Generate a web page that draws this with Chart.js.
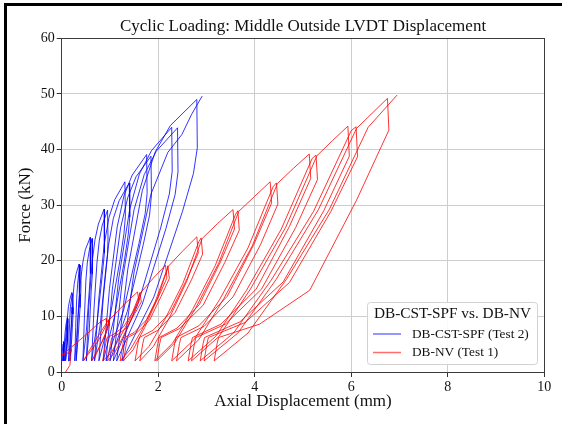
<!DOCTYPE html>
<html>
<head>
<meta charset="utf-8">
<script src="https://cdn.jsdelivr.net/npm/chart.js@4"></script>
<style>
html,body{margin:0;padding:0;background:#fff;}
#wrap{width:562px;height:424px;position:relative;}
canvas{display:block;}
</style>
</head>
<body>
<div id="wrap"><canvas id="c" width="562" height="424"></canvas></div>
<script>
// ---------- data ----------
const chartTitle = 'Cyclic Loading: Middle Outside LVDT Displacement';
const xAxisTitle = 'Axial Displacement (mm)';
const yAxisTitle = 'Force (kN)';
const legendTitle = 'DB-CST-SPF vs. DB-NV';
const seriesNames = ['DB-CST-SPF (Test 2)', 'DB-NV (Test 1)'];
const xTicks = [0, 2, 4, 6, 8, 10];
const yTicks = [0, 10, 20, 30, 40, 50, 60];

// DB-CST-SPF (Test 2): displacement (mm)
const blueX = [
  0.00,
  0.01,0.03,0.04, 0.04,0.03,0.02,
  0.03,0.045,0.05, 0.05,0.045,0.04,
  0.05,0.07,0.09,0.12, 0.125,0.11,0.08,0.06,
  0.07,0.09,0.11,0.13, 0.135,0.12,0.10,0.08,
  0.10,0.12,0.14,0.17,0.21, 0.22,0.215,0.20,0.17,0.14,
  0.15,0.17,0.18,0.20,0.23, 0.24,0.235,0.225,0.20,0.17,
  0.20,0.23,0.26,0.30,0.36, 0.37,0.365,0.35,0.31,0.27,
  0.29,0.31,0.33,0.35,0.39, 0.40,0.395,0.38,0.34,0.30,
  0.34,0.39,0.44,0.49,0.59, 0.60,0.59,0.57,0.51,0.44,
  0.47,0.50,0.53,0.57,0.63, 0.64,0.63,0.61,0.57,0.51,
  0.56,0.63,0.69,0.76,0.88, 0.89,0.88,0.84,0.73,0.62,
  0.67,0.73,0.78,0.84,0.95, 0.96,0.95,0.90,0.80,0.68,
  0.77,0.88,0.98,1.10,1.31, 1.32,1.29,1.21,1.00,0.77,
  0.86,0.97,1.07,1.19,1.40, 1.41,1.38,1.30,1.09,0.86,
  0.99,1.15,1.29,1.46,1.76, 1.77,1.73,1.60,1.28,0.92,
  1.05,1.22,1.37,1.54,1.85, 1.86,1.82,1.69,1.36,1.00,
  1.18,1.41,1.61,1.86,2.28, 2.29,2.23,2.05,1.58,1.07,
  1.26,1.50,1.71,1.96,2.40, 2.41,2.35,2.16,1.67,1.14,
  1.37,1.67,1.94,2.25,2.80, 2.81,2.73,2.50,1.91,1.25,
  1.50,1.85,2.20,2.49,2.69,2.91
];
// DB-CST-SPF (Test 2): force (kN)
const blueF = [
  2.0,
  3.5,5.0,5.5, 4.6,3.2,2.0,
  3.6,5.0,5.3, 4.4,3.0,2.0,
  4.7,7.1,8.6,9.8, 8.0,5.5,3.2,2.0,
  4.7,7.0,8.8,9.6, 7.9,5.4,3.2,2.0,
  6.3,10.0,11.8,13.1,14.3, 11.7,10.5,8.8,4.9,2.0,
  6.2,9.9,11.7,12.9,14.1, 11.6,10.4,8.7,4.9,2.0,
  8.1,13.3,15.9,17.7,19.4, 15.9,14.2,11.7,6.2,2.0,
  8.0,13.2,15.8,17.5,19.2, 15.7,14.1,11.6,6.1,2.0,
  9.8,16.4,19.8,22.0,24.2, 19.8,17.7,14.5,7.3,2.0,
  9.7,16.3,19.6,21.8,24.0, 19.7,17.6,14.4,7.3,2.0,
  11.6,19.7,23.8,26.6,29.3, 24.0,21.4,17.4,8.6,2.0,
  11.5,19.6,23.7,26.4,29.1, 23.9,21.3,17.3,8.6,2.0,
  13.3,22.9,27.8,31.0,34.2, 28.0,24.9,20.2,9.8,2.0,
  13.2,22.8,27.6,30.8,34.0, 27.9,24.8,20.1,9.8,2.0,
  15.0,26.1,31.7,35.4,39.1, 32.1,28.5,23.1,11.0,2.0,
  14.9,25.9,31.4,35.1,38.8, 31.8,28.2,22.9,10.9,2.0,
  16.7,29.3,35.6,39.8,44.0, 36.1,32.0,25.9,12.2,2.0,
  16.7,29.2,35.5,39.7,43.9, 36.0,31.9,25.8,12.2,2.0,
  18.5,32.6,39.6,44.3,49.0, 40.3,35.7,28.8,13.5,2.0,
  18.0,32.0,39.5,42.7,46.3,49.6
];

// DB-NV (Test 1): displacement (mm)
const redX = [
  0.08,0.17,0.20,0.19,0.00,
  0.45,0.80,0.92, 0.93,0.75,0.55,0.45,
  0.58,0.78,0.92,0.97, 0.98,0.85,0.70,0.62,
  0.70,0.79,0.90,0.99,1.30,1.57, 1.60,1.47,1.28,1.08,0.94,0.91,0.85,
  1.02,1.20,1.41,1.60,1.62, 1.65,1.52,1.35,1.17,1.04,1.01,0.95,
  1.10,1.27,1.46,1.63,1.90,2.15, 2.18,2.01,1.76,1.50,1.30,1.27,1.21,
  1.42,1.67,1.94,2.18,2.20, 2.23,2.06,1.82,1.56,1.37,1.34,1.28,
  1.48,1.72,1.98,2.21,2.50,2.80, 2.83,2.60,2.26,1.89,1.61,1.58,1.52,
  1.81,2.14,2.51,2.84,2.89, 2.92,2.69,2.35,1.99,1.71,1.68,1.62,
  1.90,2.23,2.59,2.91,3.23,3.55, 3.58,3.29,2.85,2.39,2.02,1.99,1.93,
  2.30,2.71,3.18,3.60,3.65, 3.68,3.38,2.93,2.44,2.06,2.03,1.97,
  2.34,2.77,3.25,3.67,4.00,4.32, 4.35,3.99,3.43,2.84,2.37,2.34,2.28,
  2.74,3.27,3.86,4.38,4.45, 4.48,4.12,3.55,2.95,2.47,2.44,2.38,
  2.84,3.36,3.95,4.47,4.80,5.13, 5.16,4.72,4.03,3.30,2.71,2.68,2.62,
  3.19,3.83,4.55,5.19,5.27, 5.30,4.85,4.14,3.39,2.78,2.75,2.69,
  3.26,3.91,4.64,5.29,5.61,5.93, 5.96,5.43,4.59,3.69,2.96,2.93,2.87,
  3.56,4.34,5.22,6.00,6.10, 6.13,5.58,4.72,3.80,3.04,3.01,2.95,
  3.65,4.44,5.32,6.11,6.43,6.75, 6.78,6.11,5.14,4.10,3.25,3.22,3.16,
  3.86,4.66,5.55,6.35,6.95
];
// DB-NV (Test 1): force (kN)
const redF = [
  0.0,1.2,4.2,3.6,3.0,
  6.3,9.0,9.6, 8.5,5.5,3.2,2.0,
  4.0,6.8,8.7,9.4, 8.3,5.6,3.3,2.0,
  2.9,4.6,6.8,9.4,12.2,14.4, 12.7,10.7,8.1,6.8,6.2,5.1,2.0,
  3.4,6.1,9.5,13.6,14.3, 12.6,10.6,8.0,6.8,6.2,5.1,2.0,
  3.5,6.3,9.9,14.2,16.9,19.2, 16.9,13.6,9.4,7.1,6.2,5.1,2.0,
  4.0,7.7,12.7,18.4,19.1, 16.8,13.6,9.3,7.1,6.2,5.1,2.0,
  4.0,8.0,13.1,19.0,21.7,24.3, 21.4,16.8,10.8,7.5,6.2,5.1,2.0,
  4.6,9.5,15.9,23.4,24.1, 21.2,16.6,10.7,7.5,6.2,5.1,2.0,
  4.6,9.7,16.3,24.0,26.7,29.2, 25.7,19.8,12.1,7.9,6.2,5.1,2.0,
  5.2,11.2,19.1,28.3,29.0, 25.5,19.7,12.0,7.8,6.2,5.1,2.0,
  5.2,11.4,19.5,28.9,31.6,34.2, 30.4,23.1,13.6,8.3,6.2,5.1,2.0,
  5.8,13.0,22.3,33.3,34.0, 30.2,22.9,13.5,8.2,6.2,5.1,2.0,
  5.8,13.2,22.7,33.9,36.6,39.2, 34.8,26.2,14.9,8.6,6.2,5.1,2.0,
  6.4,14.7,25.7,38.4,39.0, 34.6,26.0,14.9,8.6,6.2,5.1,2.0,
  6.4,14.9,26.0,38.9,41.6,44.2, 38.8,29.0,16.2,9.0,6.2,5.1,2.0,
  7.0,16.5,28.9,43.4,44.1, 38.7,28.9,16.1,8.9,6.2,5.1,2.0,
  7.0,16.6,29.2,43.8,46.5,49.2, 43.5,30.9,14.7,8.6,6.2,5.1,2.0,
  7.0,16.7,29.3,44.0,49.8
];

// ---------- chart ----------
const SERIF = "'Liberation Serif', 'DejaVu Serif', serif";
const toPoints = (xs, ys) => xs.map((x, i) => ({x: x, y: ys[i]}));

const framePlugin = {
  id: 'frame',
  beforeDraw(chart) {
    const c = chart.ctx;
    c.save();
    c.fillStyle = '#ffffff';
    c.fillRect(0, 0, chart.width, chart.height);
    c.fillStyle = '#000000';
    c.fillRect(4, 3, chart.width - 4, 3);
    c.fillRect(4, 3, 3, chart.height - 3);
    c.restore();
  },
  afterDatasetsDraw(chart) {
    const a = chart.chartArea;
    const c = chart.ctx;
    c.save();
    c.strokeStyle = '#3c3c3c';
    c.lineWidth = 1;
    const l = Math.floor(a.left) + 0.5, t = Math.floor(a.top) + 0.5;
    const r = Math.floor(a.right) + 0.5, b = Math.floor(a.bottom) + 0.5;
    c.strokeRect(l, t, r - l, b - t);
    c.restore();
  }
};

const legendPlugin = {
  id: 'boxLegend',
  afterDraw(chart) {
    const c = chart.ctx;
    const bx = 367.5, by = 302.5, bw = 170, bh = 62, rad = 3;
    c.save();
    c.beginPath();
    c.moveTo(bx + rad, by);
    c.arcTo(bx + bw, by, bx + bw, by + bh, rad);
    c.arcTo(bx + bw, by + bh, bx, by + bh, rad);
    c.arcTo(bx, by + bh, bx, by, rad);
    c.arcTo(bx, by, bx + bw, by, rad);
    c.closePath();
    c.fillStyle = 'rgba(255,255,255,0.9)';
    c.fill();
    c.strokeStyle = '#d2d2d2';
    c.lineWidth = 1;
    c.stroke();
    c.fillStyle = '#111';
    c.textBaseline = 'middle';
    c.textAlign = 'center';
    c.font = '15.3px ' + SERIF;
    c.fillText(legendTitle, bx + bw / 2, 313.5);
    c.textAlign = 'left';
    c.font = '13.3px ' + SERIF;
    const rows = [334, 352.5];
    chart.data.datasets.forEach((ds, i) => {
      const y = rows[i];
      c.strokeStyle = ds.legendColor;
      c.lineWidth = 1.5;
      c.beginPath();
      c.moveTo(373, y);
      c.lineTo(401, y);
      c.stroke();
      c.fillStyle = '#111';
      c.fillText(ds.label, 412, y + 0.5);
    });
    c.restore();
  }
};

new Chart(document.getElementById('c'), {
  type: 'scatter',
  data: {
    datasets: [
      {
        label: seriesNames[0],
        data: toPoints(blueX, blueF),
        showLine: true,
        borderColor: 'rgba(0,0,255,0.8)',
        legendColor: 'rgba(70,70,255,0.75)',
        borderWidth: 1,
        pointRadius: 0,
        tension: 0,
        borderJoinStyle: 'round',
        order: 1
      },
      {
        label: seriesNames[1],
        data: toPoints(redX, redF),
        showLine: true,
        borderColor: 'rgba(255,0,0,0.8)',
        legendColor: 'rgba(255,60,60,0.75)',
        borderWidth: 1,
        pointRadius: 0,
        tension: 0,
        borderJoinStyle: 'round',
        order: 0
      }
    ]
  },
  options: {
    responsive: false,
    animation: false,
    devicePixelRatio: 1,
    layout: { padding: { left: 0, right: 17.7, top: 0, bottom: 0 } },
    plugins: {
      legend: { display: false },
      tooltip: { enabled: false },
      title: {
        display: true,
        fullSize: false,
        text: chartTitle,
        color: '#111',
        font: { family: SERIF, size: 17, weight: 'normal' },
        padding: { top: 16.6, bottom: 1.3 }
      }
    },
    scales: {
      x: {
        type: 'linear',
        min: xTicks[0],
        max: xTicks[xTicks.length - 1],
        afterBuildTicks: (s) => { s.ticks = xTicks.map(v => ({value: v})); },
        afterFit: (s) => { s.height = 52; },
        ticks: { color: '#111', font: { family: SERIF, size: 14 }, padding: 2, maxRotation: 0 },
        grid: { color: '#cdcdcd', lineWidth: 1, tickColor: '#333', tickLength: 5 },
        border: { display: false },
        title: {
          display: true, text: xAxisTitle, color: '#111',
          font: { family: SERIF, size: 17 }, padding: { top: 0, bottom: 12 }
        }
      },
      y: {
        type: 'linear',
        min: yTicks[0],
        max: yTicks[yTicks.length - 1],
        afterBuildTicks: (s) => { s.ticks = yTicks.map(v => ({value: v})); },
        afterFit: (s) => { s.width = 61.7; },
        ticks: { color: '#111', font: { family: SERIF, size: 14 }, padding: 2 },
        grid: { color: '#cdcdcd', lineWidth: 1, tickColor: '#333', tickLength: 5 },
        border: { display: false },
        title: {
          display: true, text: yAxisTitle, color: '#111',
          font: { family: SERIF, size: 17 }, padding: { top: 15.5, bottom: 0 }
        }
      }
    }
  },
  plugins: [framePlugin, legendPlugin]
});
</script>
</body>
</html>
